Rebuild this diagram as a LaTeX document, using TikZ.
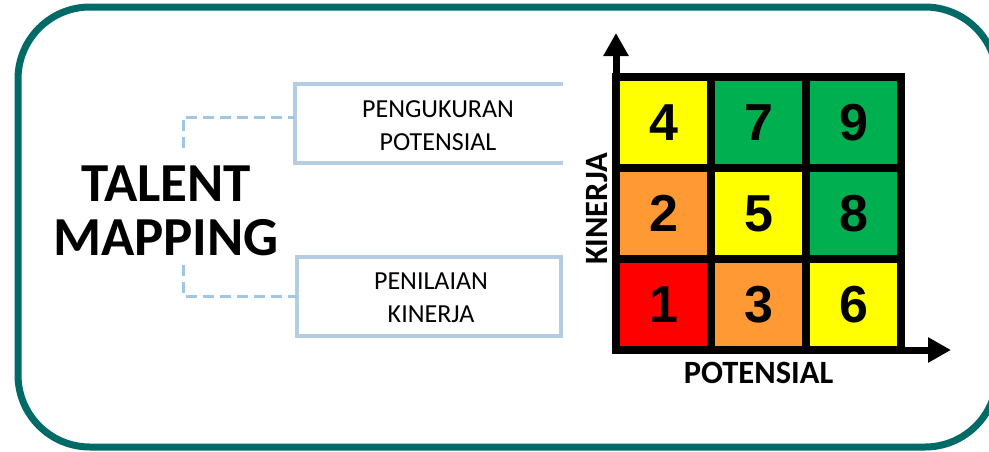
\documentclass[tikz,border=0pt]{standalone}
\usepackage{fontspec}
\setmainfont{Carlito}
\newfontfamily\digitfont{Liberation Sans}
\usetikzlibrary{arrows.meta,calc}
\definecolor{frameteal}{RGB}{0,106,103}
\definecolor{boxblue}{RGB}{181,205,226}
\definecolor{dashblue}{RGB}{160,198,230}
\definecolor{cellyellow}{RGB}{255,255,0}
\definecolor{cellgreen}{RGB}{0,176,80}
\definecolor{cellorange}{RGB}{255,153,51}
\definecolor{cellred}{RGB}{255,0,0}

\begin{document}
\begin{tikzpicture}[x=1pt,y=-1pt,
  frame/.style={draw=frameteal,line width=7pt,rounded corners=72pt},
  title/.style={font=\fontsize{55}{54}\selectfont\bfseries,align=center,inner sep=0pt},
  boxshape/.style={rectangle,inner sep=0pt,outer sep=0pt,minimum height=79pt},
  boxline/.style={draw=boxblue,line width=4pt},
  boxtext/.style={font=\fontsize{26}{33}\selectfont,align=center,inner sep=0pt},
  dashline/.style={draw=dashblue,line width=3pt,dash pattern=on 11pt off 6pt},
  cell/.style={rectangle,draw=black,line width=8pt,minimum width=95pt,minimum height=91pt,
    inner sep=0pt,outer sep=0pt,font=\digitfont\fontsize{52}{52}\selectfont\bfseries},
  axis/.style={line width=7pt,line cap=rect,-{Triangle[width=24pt,length=23pt]}},
  axislabel/.style={font=\fontsize{32.5}{33}\selectfont\bfseries,inner sep=0pt}
]
\clip (0,0) rectangle (989,451);

% outer rounded frame
\draw[frame] (18,7) rectangle (997,447);

% title
\node[title] (title) at (166,211) {TALENT\\MAPPING};

% the two branch boxes
\node[boxshape,minimum width=268pt] (pb) at (429,123.5) {};
\draw[boxline] (pb.north east) -- (pb.north west) -- (pb.south west) -- (pb.south east);
\node[boxtext] (pbt) at (438,126) {PENGUKURAN\\POTENSIAL};

\node[boxshape,boxline,minimum width=264pt] (pk) at (429,296) {};
\node[boxtext] (pkt) at (431,297.5) {PENILAIAN\\KINERJA};

% dashed connectors from the title to the boxes
\coordinate (d1) at (183,148);
\coordinate (d2) at (183,265);
\draw[dashline] (d1) |- ($(pb.north west)!0.42!(pb.south west)$);
\draw[dashline] (d2) |- (pk.west);

% 3x3 grid
\node[cell,fill=cellyellow] (g4) at (663.5,122.5) {4};
\node[cell,fill=cellgreen]  (g7) at (758.5,122.5) {7};
\node[cell,fill=cellgreen]  (g9) at (853.5,122.5) {9};
\node[cell,fill=cellorange] (g2) at (663.5,213.5) {2};
\node[cell,fill=cellyellow] (g5) at (758.5,213.5) {5};
\node[cell,fill=cellgreen]  (g8) at (853.5,213.5) {8};
\node[cell,fill=cellred]    (g1) at (663.5,304.5) {1};
\node[cell,fill=cellorange] (g3) at (758.5,304.5) {3};
\node[cell,fill=cellyellow] (g6) at (853.5,304.5) {6};

% axes
\coordinate (o) at (g1.south west);
\coordinate (ytip) at (616,33);
\coordinate (xtip) at (951,350);
\draw[axis] (o) -- (ytip);
\draw[axis] (o) -- (xtip);

\node[axislabel,rotate=90] (ky) at (597,209) {KINERJA};
\node[axislabel] (kx) at (758.5,372.5) {POTENSIAL};
\end{tikzpicture}
\end{document}
